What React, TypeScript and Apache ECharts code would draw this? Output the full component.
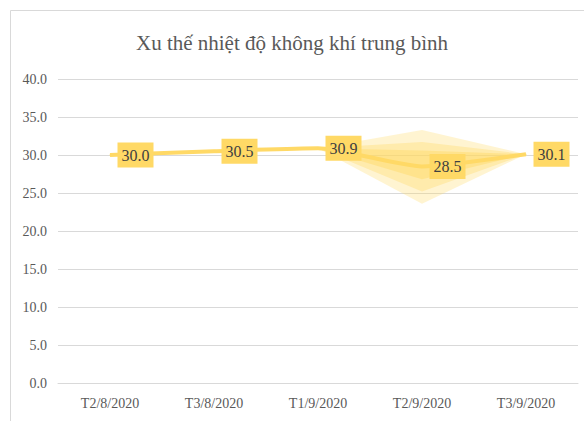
import React, { useEffect, useRef } from "react";
import * as echarts from "echarts";

const categories = ["T2/8/2020", "T3/8/2020", "T1/9/2020", "T2/9/2020", "T3/9/2020"];
const temperature = [30.0, 30.5, 30.9, 28.5, 30.1];
// glow layers around the T2/9/2020 point (upper / lower extent, outermost first)
const glowUpper = [33.3, 31.7, 30.6];
const glowLower = [23.6, 25.2, 26.8];
const glowOpacity = [0.3, 0.35, 0.45];
const yTicks = { min: 0, max: 40, interval: 5 };

export default function App() {
  const ref = useRef<HTMLDivElement>(null);
  useEffect(() => {
    if (!ref.current) return;
    const chart = echarts.init(ref.current, null, { renderer: "svg" });
    const font = "Liberation Serif";
    chart.setOption({
      animation: false,
      backgroundColor: "#ffffff",
      textStyle: { fontFamily: font },
      title: {
        text: "Xu thế nhiệt độ không khí trung bình",
        left: "center",
        top: 27,
        textStyle: { color: "#595959", fontSize: 21, fontWeight: "normal", fontFamily: font },
      },
      graphic: [
        {
          type: "rect",
          shape: { x: 10.5, y: 10.5, width: 700, height: 700 },
          style: { fill: "none", stroke: "#d9d9d9", lineWidth: 1 },
          silent: true,
        },
      ],
      grid: { left: 58, right: 6, top: 79, bottom: 38 },
      xAxis: {
        type: "category",
        data: categories,
        boundaryGap: true,
        axisLine: { show: true, lineStyle: { color: "#d9d9d9" } },
        axisTick: { show: false },
        axisLabel: { color: "#595959", fontSize: 14, fontFamily: font, margin: 13 },
      },
      yAxis: {
        type: "value",
        min: yTicks.min,
        max: yTicks.max,
        interval: yTicks.interval,
        axisLine: { show: false },
        axisTick: { show: false },
        splitLine: { lineStyle: { color: "#d9d9d9" } },
        axisLabel: {
          color: "#595959",
          fontSize: 14,
          fontFamily: font,
          margin: 11,
          formatter: (v: number) => v.toFixed(1),
        },
      },
      series: [
        {
          type: "custom",
          silent: true,
          z: 1,
          data: [0],
          renderItem: (_params: any, api: any) => {
            const left = api.coord([2, temperature[2]]);
            const right = api.coord([4, temperature[4]]);
            const children = glowUpper.map((u, i) => {
              const top = api.coord([3, u]);
              const bottom = api.coord([3, glowLower[i]]);
              return {
                type: "polygon",
                shape: { points: [left, top, right, bottom] },
                style: { fill: "#FFD966", opacity: glowOpacity[i] },
              };
            });
            return { type: "group", children };
          },
        },
        {
          type: "line",
          data: temperature,
          smooth: 0.2,
          z: 3,
          symbol: "circle",
          symbolSize: 1,
          itemStyle: { color: "#FFD966" },
          lineStyle: { color: "#FFD966", width: 4 },
          label: {
            show: true,
            position: "right",
            distance: 7,
            formatter: (p: any) => Number(p.value).toFixed(1),
            backgroundColor: "#FFD966",
            padding: [5, 4, 4, 4],
            color: "#404040",
            fontSize: 16,
            fontFamily: font,
          },
        },
      ],
    });
    return () => chart.dispose();
  }, []);
  return (
    <div
      ref={ref}
      style={{ position: "fixed", left: 0, top: 0, width: 584, height: 421 }}
    />
  );
}
